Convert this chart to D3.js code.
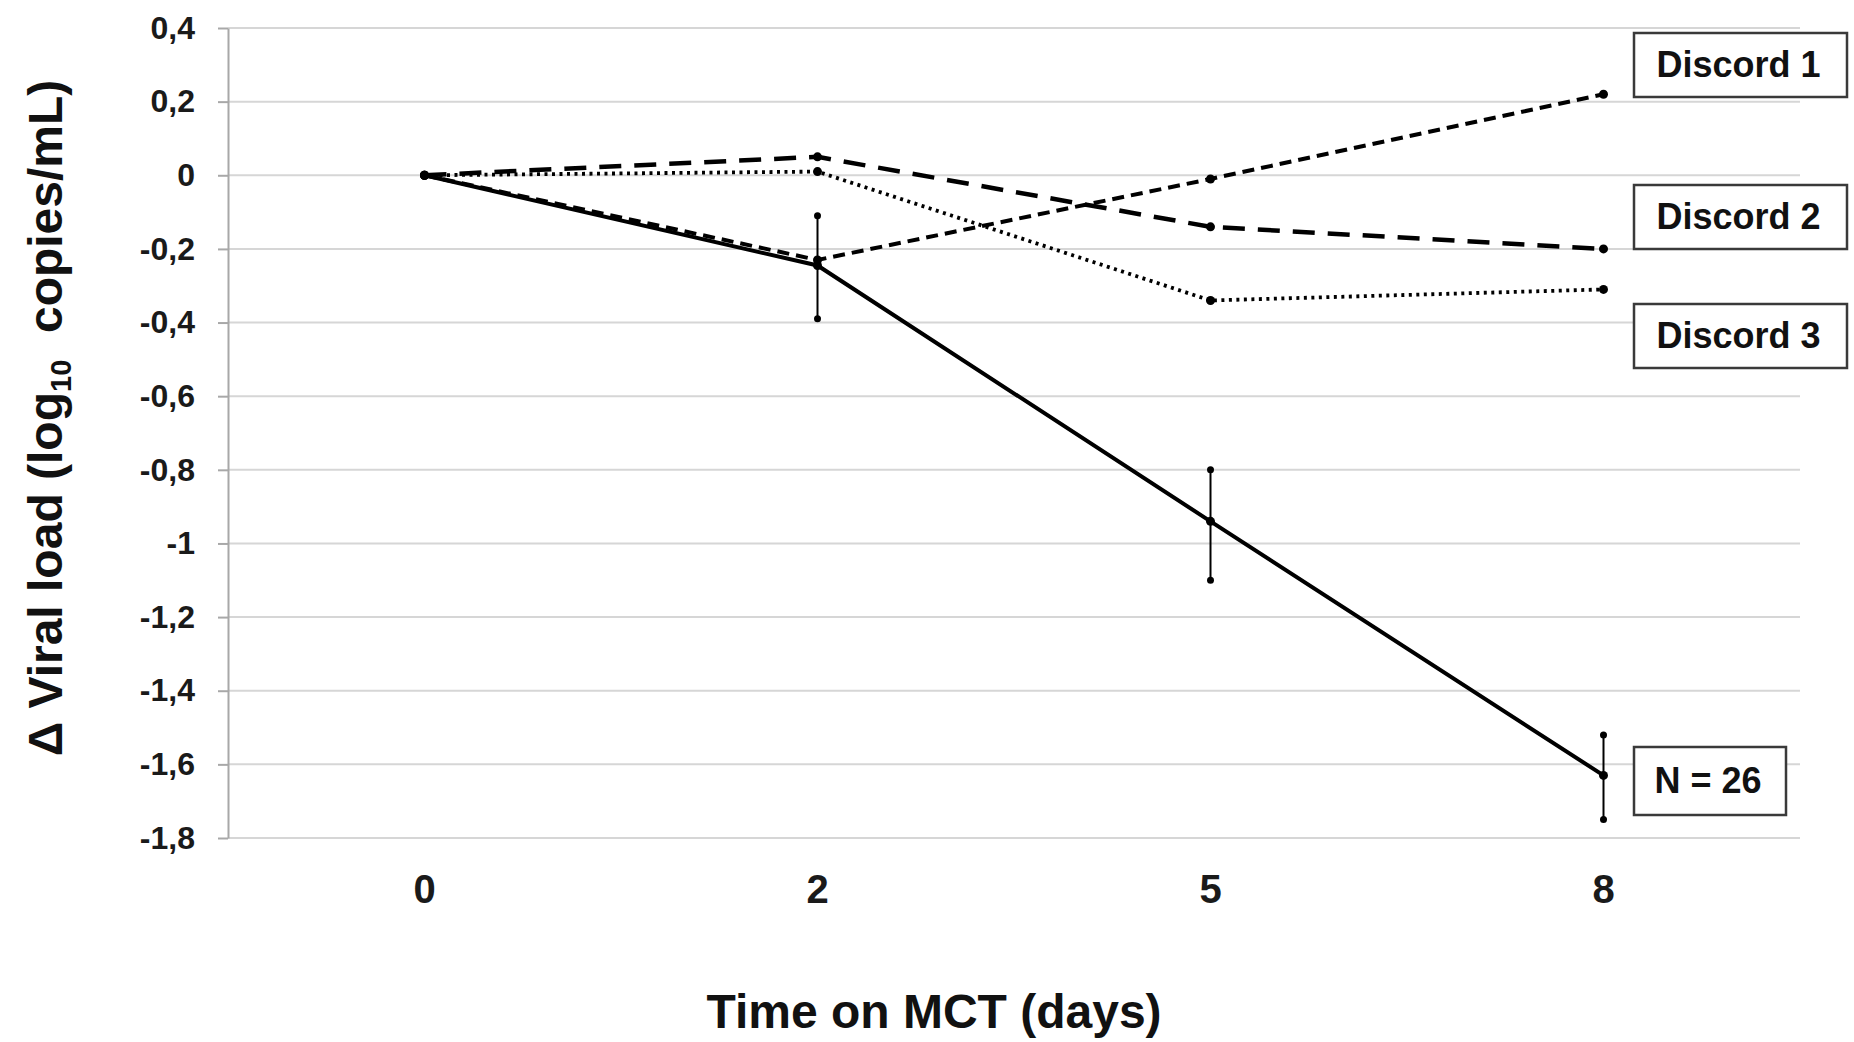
<!DOCTYPE html>
<html><head><meta charset="utf-8">
<script src="https://cdn.jsdelivr.net/npm/d3@7"></script>
<style>
body{margin:0;background:#fff}
svg{display:block}
text{font-family:"Liberation Sans",Arial,sans-serif;font-weight:bold}
</style>
</head><body>
<svg id="chart" width="1854" height="1042"></svg>
<script>
// ---- data ----
const days = ["0", "2", "5", "8"];
const meanValues = [0, -0.245, -0.94, -1.63];
const errHigh = [null, -0.11, -0.80, -1.52];
const errLow = [null, -0.39, -1.10, -1.75];
const discord1 = [0, -0.23, -0.01, 0.22];
const discord2 = [0, 0.05, -0.14, -0.20];
const discord3 = [0, 0.01, -0.34, -0.31];
const yTicks = [0.4, 0.2, 0, -0.2, -0.4, -0.6, -0.8, -1, -1.2, -1.4, -1.6, -1.8];
const boxLabels = ["Discord 1", "Discord 2", "Discord 3", "N = 26"];
const xTitle = "Time on MCT (days)";

// ---- layout ----
const svg = d3.select("#chart");
const L = 228, R = 1800, T = 28, B = 838;
const x = d3.scaleBand().domain(days).range([L, R]);
const cx = d => x(d) + x.bandwidth() / 2;
const y = d3.scaleLinear().domain([-1.8, 0.4]).range([B, T]);
const fmt = v => String(+v.toFixed(1)).replace(".", ",");

// gridlines
svg.append("g").selectAll("line").data(yTicks).join("line")
  .attr("x1", L).attr("x2", R)
  .attr("y1", d => y(d)).attr("y2", d => y(d))
  .attr("stroke", "#d6d6d6").attr("stroke-width", 2);

// y axis
const yAxis = svg.append("g").attr("transform", `translate(${L},0)`)
  .call(d3.axisLeft(y).tickValues(yTicks).tickFormat(fmt).tickSize(10).tickSizeOuter(0).tickPadding(23));
yAxis.select(".domain").attr("stroke", "#a8a8a8").attr("stroke-width", 2);
yAxis.selectAll(".tick line").attr("stroke", "#a8a8a8").attr("stroke-width", 2);
yAxis.selectAll(".tick text").attr("font-size", 32).attr("fill", "#1a1a1a")
  .attr("font-family", "Liberation Sans, Arial, sans-serif").attr("font-weight", "bold");

// x axis labels
const xAxis = svg.append("g").attr("transform", `translate(0,${B})`)
  .call(d3.axisBottom(x).tickSize(0).tickPadding(37));
xAxis.select(".domain").remove();
xAxis.selectAll(".tick text").attr("font-size", 40).attr("fill", "#1a1a1a")
  .attr("font-family", "Liberation Sans, Arial, sans-serif").attr("font-weight", "bold");

// axis titles
svg.append("text").attr("x", 934).attr("y", 1028).attr("text-anchor", "middle")
  .attr("font-size", 48).attr("fill", "#111").text(xTitle);

const yt = svg.append("text").attr("transform", "translate(62,418) rotate(-90)")
  .attr("text-anchor", "middle").attr("font-size", 48).attr("fill", "#111");
yt.append("tspan").text("\u0394 Viral load (log");
yt.append("tspan").attr("font-size", 29).attr("dy", 9).text("10");
yt.append("tspan").attr("dy", -9).text("\u00a0 copies/mL)");

// lines
const line = d3.line().x((d, i) => cx(days[i])).y(d => y(d));
const series = [
  {vals: discord3, w: 3.8, dash: "3,4.5"},
  {vals: discord2, w: 4.5, dash: "22,13"},
  {vals: discord1, w: 4, dash: "12,7"},
  {vals: meanValues, w: 4, dash: null}
];
series.forEach(s => {
  svg.append("path").datum(s.vals).attr("d", line)
    .attr("fill", "none").attr("stroke", "#000").attr("stroke-width", s.w)
    .attr("stroke-dasharray", s.dash);
});

// error bars
const eb = days.map((d, i) => ({d, lo: errLow[i], hi: errHigh[i]})).filter(e => e.lo !== null);
svg.append("g").selectAll("line").data(eb).join("line")
  .attr("x1", e => cx(e.d)).attr("x2", e => cx(e.d))
  .attr("y1", e => y(e.hi)).attr("y2", e => y(e.lo))
  .attr("stroke", "#000").attr("stroke-width", 2);
const caps = eb.flatMap(e => [{d: e.d, v: e.hi}, {d: e.d, v: e.lo}]);
svg.append("g").selectAll("circle").data(caps).join("circle")
  .attr("cx", c => cx(c.d)).attr("cy", c => y(c.v)).attr("r", 3.5).attr("fill", "#000");

// markers
[discord1, discord2, discord3, meanValues].forEach(vals => {
  svg.append("g").selectAll("circle").data(vals).join("circle")
    .attr("cx", (v, i) => cx(days[i])).attr("cy", v => y(v)).attr("r", 4.5).attr("fill", "#000");
});

// label boxes
const boxes = [
  {t: boxLabels[0], x: 1634, y: 33, w: 213, h: 64},
  {t: boxLabels[1], x: 1634, y: 185, w: 213, h: 64},
  {t: boxLabels[2], x: 1634, y: 304, w: 213, h: 64},
  {t: boxLabels[3], x: 1634, y: 747, w: 152, h: 68}
];
const bg = svg.append("g").selectAll("g").data(boxes).join("g");
bg.append("rect").attr("x", b => b.x).attr("y", b => b.y).attr("width", b => b.w).attr("height", b => b.h)
  .attr("fill", "#fff").attr("stroke", "#3a3a3a").attr("stroke-width", 2.5);
bg.append("text").attr("x", b => b.x + b.w / 2 - 2).attr("y", b => b.y + b.h / 2 + 12)
  .attr("text-anchor", "middle").attr("font-size", 36).attr("fill", "#111").text(b => b.t);
</script>
</body></html>
